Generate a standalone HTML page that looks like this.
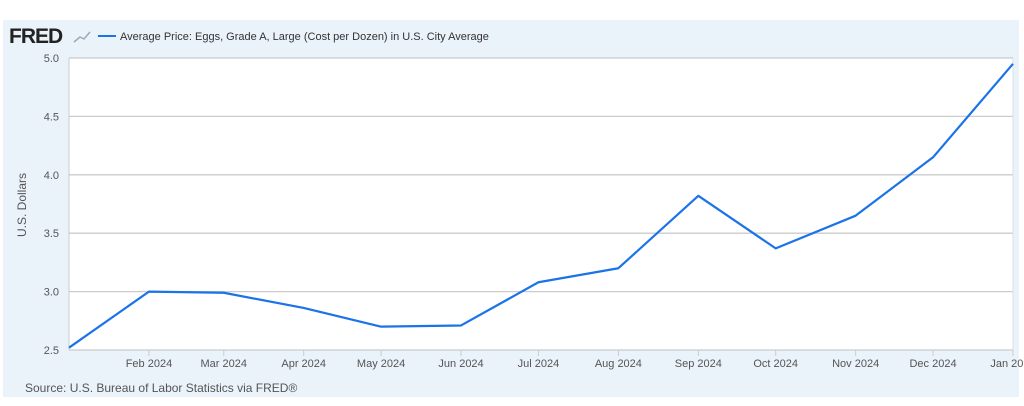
<!DOCTYPE html>
<html><head><meta charset="utf-8"><style>
body{margin:0;background:#fff;width:1024px;height:401px;overflow:hidden;font-family:"Liberation Sans",sans-serif}
</style></head><body>
<svg width="1024" height="401">
<rect x="3" y="20" width="1016" height="377" fill="#eaf2fa"/>
<rect x="69" y="58" width="944" height="292" fill="#fff"/>
<text x="9" y="43" font-size="21" font-weight="bold" fill="#222" letter-spacing="-1">FRED</text>
<polyline points="74,42 80,37 84,39 90,32" fill="none" stroke="#9ab" stroke-width="1.5"/>
<line x1="98" y1="36" x2="116" y2="36" stroke="#1a73e8" stroke-width="2"/>
<text x="120" y="40" font-size="11" fill="#333">Average Price: Eggs, Grade A, Large (Cost per Dozen) in U.S. City Average</text>
<g id="grid"></g><g id="ylab"></g><g id="xlab"></g>
<line x1="1013" y1="58" x2="1013" y2="350" stroke="#d8e0e8"/>
<text transform="translate(26,205) rotate(-90)" text-anchor="middle" font-size="12" fill="#555">U.S. Dollars</text>
<text x="25" y="392" font-size="12" fill="#555">Source: U.S. Bureau of Labor Statistics via FRED®</text>
<polyline id="line" fill="none" stroke="#1a73e8" stroke-width="2.2" stroke-linejoin="round"/>
</svg>
<script>
const dayOffsets=[0,31,60,91,121,152,182,213,244,274,305,335,366];
const values=[2.52,3.00,2.99,2.86,2.70,2.71,3.08,3.20,3.82,3.37,3.65,4.15,4.95];
const xTickLabels=["Feb 2024","Mar 2024","Apr 2024","May 2024","Jun 2024","Jul 2024","Aug 2024","Sep 2024","Oct 2024","Nov 2024","Dec 2024","Jan 2025"];
const yTicks=[2.5,3.0,3.5,4.0,4.5,5.0];
const NS="http://www.w3.org/2000/svg";
const x=d=>69+d/366*944, y=v=>350-(v-2.5)/2.5*292;
const g=document.getElementById('grid'),yl=document.getElementById('ylab'),xl=document.getElementById('xlab');
function mk(tag,at,par){const e=document.createElementNS(NS,tag);for(const k in at)e.setAttribute(k,at[k]);par.appendChild(e);return e;}
yTicks.forEach(t=>{
 const l=mk('line',{x1:69,x2:1013,y1:y(t),y2:y(t),stroke:'#ccc','stroke-width':1.3},g);
 
 
 const tx=mk('text',{x:59,y:y(t)+4,'text-anchor':'end','font-size':11,fill:'#555'},yl);
 tx.textContent=t.toFixed(1);
 
 
});
const ax=mk('line',{x1:69,x2:69,y1:58,y2:350,stroke:'#ccc'},g);


xTickLabels.forEach((s,i)=>{
 const xx=x(dayOffsets[i+1]);
 const tk=mk('line',{x1:xx,x2:xx,y1:350,y2:356,stroke:'#ccc'},g);
 
 
 const t=mk('text',{x:xx,y:367,'text-anchor':'middle','font-size':11,fill:'#555'},xl);
 t.textContent=s;
 
 
});
const p=document.getElementById('line');
p.setAttribute('points',values.map((v,i)=>x(dayOffsets[i])+','+y(v)).join(' '));


</script>
</body></html>
